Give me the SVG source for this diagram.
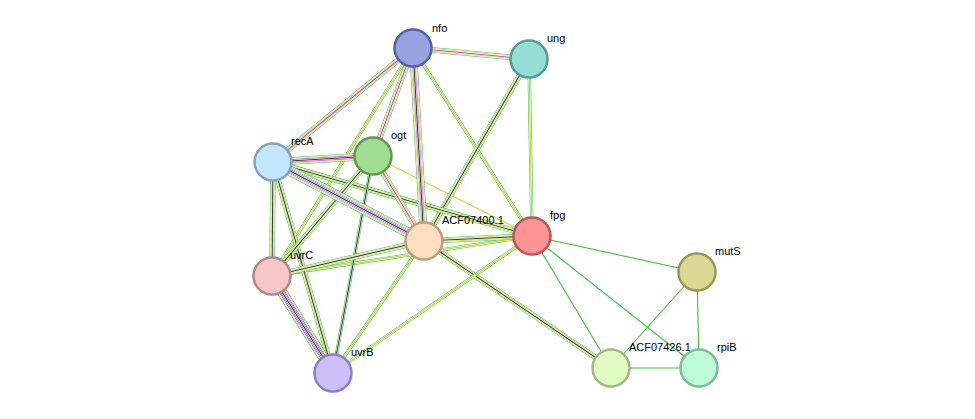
<svg xmlns="http://www.w3.org/2000/svg" xmlns:xlink="http://www.w3.org/1999/xlink" width="975" height="419" viewBox="0 0 975 419">
<style>
use{fill:none}
.g{stroke:#3cc03c}.y{stroke:#c8dc30}.k{stroke:#3a3a3a}.m{stroke:#d840d8}.c{stroke:#40b4e6}.b{stroke:#3040e8}.w{stroke:#fff}
.s1{stroke-width:1.1}.s2{stroke-width:2.2}.s3{stroke-width:3.3}.s4{stroke-width:4.4}.s5{stroke-width:5.5}.s6{stroke-width:6.6}.s7{stroke-width:7.7}.s8{stroke-width:8.8}.s9{stroke-width:9.9}
.n{stroke-width:2.5}
text{font-family:"Liberation Sans",Arial,sans-serif;font-size:11px;fill:#000}
</style>
<defs>
<line id="L1" x1="413" y1="48" x2="529" y2="59"/>
<line id="L2" x1="413" y1="48" x2="273" y2="162"/>
<line id="L3" x1="413" y1="48" x2="373" y2="156"/>
<line id="L4" x1="413" y1="48" x2="424" y2="241"/>
<line id="L5" x1="413" y1="48" x2="532" y2="236"/>
<line id="L6" x1="413" y1="48" x2="272" y2="276"/>
<line id="L7" x1="529" y1="59" x2="424" y2="241"/>
<line id="L8" x1="529" y1="59" x2="532" y2="236"/>
<line id="L9" x1="273" y1="162" x2="373" y2="156"/>
<line id="L10" x1="273" y1="162" x2="424" y2="241"/>
<line id="L11" x1="273" y1="162" x2="532" y2="236"/>
<line id="L12" x1="273" y1="162" x2="272" y2="276"/>
<line id="L13" x1="273" y1="162" x2="333" y2="373"/>
<line id="L14" x1="373" y1="156" x2="424" y2="241"/>
<line id="L15" x1="373" y1="156" x2="532" y2="236"/>
<line id="L16" x1="373" y1="156" x2="272" y2="276"/>
<line id="L17" x1="373" y1="156" x2="333" y2="373"/>
<line id="L18" x1="424" y1="241" x2="532" y2="236"/>
<line id="L19" x1="424" y1="241" x2="272" y2="276"/>
<line id="L20" x1="424" y1="241" x2="333" y2="373"/>
<line id="L21" x1="424" y1="241" x2="611" y2="368"/>
<line id="L22" x1="532" y1="236" x2="272" y2="276"/>
<line id="L23" x1="532" y1="236" x2="333" y2="373"/>
<line id="L24" x1="532" y1="236" x2="697" y2="272"/>
<line id="L25" x1="532" y1="236" x2="611" y2="368"/>
<line id="L26" x1="532" y1="236" x2="699" y2="368"/>
<line id="L27" x1="272" y1="276" x2="333" y2="373"/>
<line id="L28" x1="697" y1="272" x2="611" y2="368"/>
<line id="L29" x1="697" y1="272" x2="699" y2="368"/>
<line id="L30" x1="611" y1="368" x2="699" y2="368"/>
</defs>
<g id="edges">
<use href="#L24" class="g s1"/><use href="#L25" class="g s1"/><use href="#L26" class="g s1"/><use href="#L28" class="g s1"/><use href="#L29" class="g s1"/><use href="#L30" class="g s1"/>
<use href="#L15" class="y s1"/>
<use href="#L21" class="g s5"/><use href="#L21" class="w s4"/><use href="#L21" class="y s3"/><use href="#L21" class="w s2"/><use href="#L21" class="k s1"/>
<use href="#L23" class="g s3"/><use href="#L23" class="w s2"/><use href="#L23" class="y s1"/>
<use href="#L20" class="g s3"/><use href="#L20" class="w s2"/><use href="#L20" class="y s1"/>
<use href="#L22" class="g s3"/><use href="#L22" class="w s2"/><use href="#L22" class="y s1"/>
<use href="#L5" class="g s3"/><use href="#L5" class="w s2"/><use href="#L5" class="y s1"/>
<use href="#L6" class="g s3"/><use href="#L6" class="w s2"/><use href="#L6" class="y s1"/>
<use href="#L8" class="g s3"/><use href="#L8" class="w s2"/><use href="#L8" class="y s1"/>
<use href="#L7" class="g s5"/><use href="#L7" class="w s4"/><use href="#L7" class="y s3"/><use href="#L7" class="w s2"/><use href="#L7" class="k s1"/>
<use href="#L11" class="g s5"/><use href="#L11" class="w s4"/><use href="#L11" class="y s3"/><use href="#L11" class="w s2"/><use href="#L11" class="k s1"/>
<use href="#L13" class="g s5"/><use href="#L13" class="w s4"/><use href="#L13" class="y s3"/><use href="#L13" class="w s2"/><use href="#L13" class="k s1"/>
<use href="#L16" class="g s5"/><use href="#L16" class="w s4"/><use href="#L16" class="y s3"/><use href="#L16" class="w s2"/><use href="#L16" class="k s1"/>
<use href="#L17" class="g s3"/><use href="#L17" class="w s2"/><use href="#L17" class="k s1"/>
<use href="#L19" class="g s5"/><use href="#L19" class="w s4"/><use href="#L19" class="y s3"/><use href="#L19" class="w s2"/><use href="#L19" class="k s1"/>
<use href="#L18" class="g s5"/><use href="#L18" class="w s4"/><use href="#L18" class="y s3"/><use href="#L18" class="w s2"/><use href="#L18" class="k s1"/>
<use href="#L12" class="g s5"/><use href="#L12" class="w s4"/><use href="#L12" class="y s3"/><use href="#L12" class="w s2"/><use href="#L12" class="k s1"/>
<use href="#L1" class="g s5"/><use href="#L1" class="w s4"/><use href="#L1" class="y s3"/><use href="#L1" class="w s2"/><use href="#L1" class="m s1"/>
<use href="#L2" class="g s5"/><use href="#L2" class="w s4"/><use href="#L2" class="y s3"/><use href="#L2" class="w s2"/><use href="#L2" class="m s1"/>
<use href="#L3" class="g s5"/><use href="#L3" class="w s4"/><use href="#L3" class="y s3"/><use href="#L3" class="w s2"/><use href="#L3" class="m s1"/>
<use href="#L14" class="g s5"/><use href="#L14" class="w s4"/><use href="#L14" class="y s3"/><use href="#L14" class="w s2"/><use href="#L14" class="m s1"/>
<use href="#L4" class="g s7"/><use href="#L4" class="w s6"/><use href="#L4" class="y s5"/><use href="#L4" class="w s4"/><use href="#L4" class="m s3"/><use href="#L4" class="w s2"/><use href="#L4" class="k s1"/>
<use href="#L9" class="g s7"/><use href="#L9" class="w s6"/><use href="#L9" class="y s5"/><use href="#L9" class="w s4"/><use href="#L9" class="m s3"/><use href="#L9" class="w s2"/><use href="#L9" class="k s1"/>
<use href="#L10" class="g s9"/><use href="#L10" class="w s8"/><use href="#L10" class="y s7"/><use href="#L10" class="w s6"/><use href="#L10" class="c s5"/><use href="#L10" class="w s4"/><use href="#L10" class="m s3"/><use href="#L10" class="w s2"/><use href="#L10" class="k s1"/>
<use href="#L27" class="g s9"/><use href="#L27" class="w s8"/><use href="#L27" class="y s7"/><use href="#L27" class="w s6"/><use href="#L27" class="b s5"/><use href="#L27" class="w s4"/><use href="#L27" class="m s3"/><use href="#L27" class="w s2"/><use href="#L27" class="k s1"/>
</g>
<g id="nfo"><circle cx="413" cy="48" r="18.5" fill="#97a3e0" stroke="#5660a8" class="n"/><text x="432" y="32">nfo</text></g>
<g id="ung"><circle cx="529" cy="59" r="18.5" fill="#95ded5" stroke="#509e95" class="n"/><text x="547" y="42">ung</text></g>
<g id="recA"><circle cx="273" cy="162" r="18.5" fill="#c3e6fb" stroke="#7fa5c0" class="n"/><text x="291" y="145">recA</text></g>
<g id="ogt"><circle cx="373" cy="156" r="18.5" fill="#a0dd90" stroke="#5e9a4f" class="n"/><text x="391" y="139">ogt</text></g>
<g id="ACF07400.1"><circle cx="424" cy="241" r="18.5" fill="#fddfc0" stroke="#bd9d7c" class="n"/><text x="442" y="224">ACF07400.1</text></g>
<g id="fpg"><circle cx="532" cy="236" r="18.5" fill="#fc9494" stroke="#c05454" class="n"/><text x="550" y="219">fpg</text></g>
<g id="uvrC"><circle cx="272" cy="276" r="18.5" fill="#f7c6c6" stroke="#b58787" class="n"/><text x="290" y="259">uvrC</text></g>
<g id="uvrB"><circle cx="333" cy="373" r="18.5" fill="#cdc0f8" stroke="#8f7dc7" class="n"/><text x="351" y="356">uvrB</text></g>
<g id="mutS"><circle cx="697" cy="272" r="18.5" fill="#dcd893" stroke="#9b9854" class="n"/><text x="715" y="255">mutS</text></g>
<g id="ACF07426.1"><circle cx="611" cy="368" r="18.5" fill="#e2fdc4" stroke="#a1b886" class="n"/><text x="629" y="351">ACF07426.1</text></g>
<g id="rpiB"><circle cx="699" cy="368" r="18.5" fill="#bdfbd9" stroke="#80bb9a" class="n"/><text x="717" y="351">rpiB</text></g>
</svg>
